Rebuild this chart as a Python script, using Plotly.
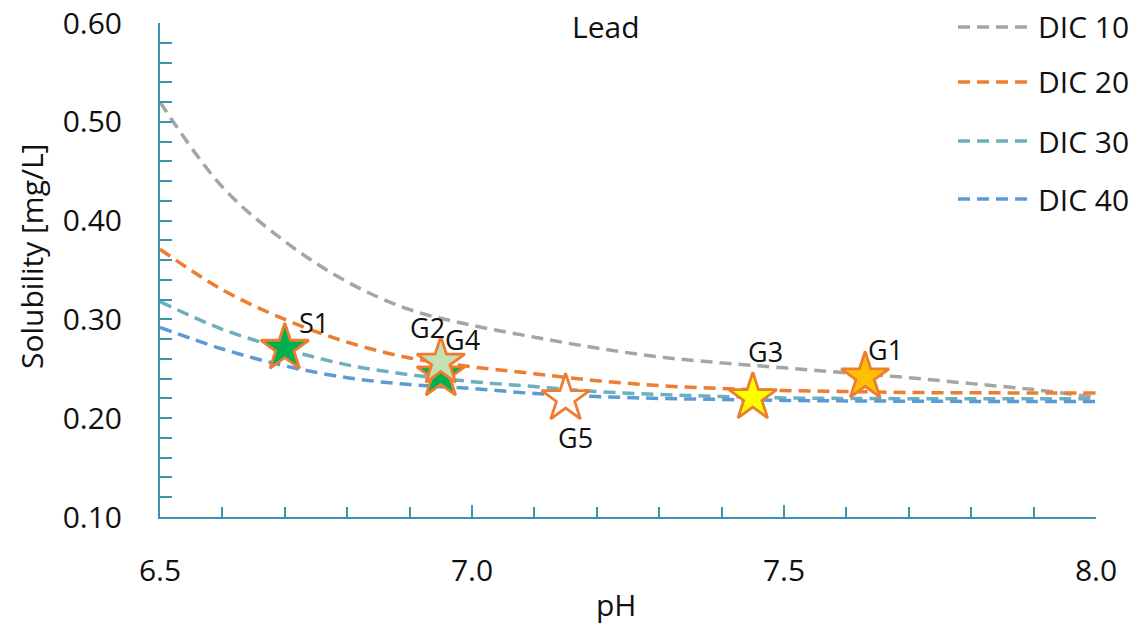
import plotly.graph_objects as go

# ---------------- data ----------------
ph = [6.5, 6.6, 6.7, 6.8, 6.9, 7.0, 7.1, 7.2, 7.3, 7.4, 7.5, 7.6, 7.7, 7.8, 7.9, 8.0]
dic10 = [0.520, 0.434, 0.379, 0.338, 0.310, 0.294, 0.282, 0.271, 0.262, 0.256, 0.251, 0.246, 0.241, 0.235, 0.229, 0.221]
dic20 = [0.371, 0.330, 0.300, 0.277, 0.261, 0.252, 0.245, 0.238, 0.233, 0.230, 0.228, 0.227, 0.226, 0.2258, 0.2255, 0.2254]
dic30 = [0.318, 0.290, 0.270, 0.254, 0.244, 0.237, 0.232, 0.227, 0.224, 0.222, 0.2205, 0.2200, 0.2198, 0.2198, 0.2198, 0.2198]
dic40 = [0.292, 0.270, 0.253, 0.241, 0.234, 0.230, 0.225, 0.222, 0.220, 0.219, 0.218, 0.2175, 0.2172, 0.2170, 0.2170, 0.2170]
series_names = ["DIC 10", "DIC 20", "DIC 30", "DIC 40"]
series_values = [dic10, dic20, dic30, dic40]

sample_names = ["S1", "G4", "G2", "G5", "G3", "G1"]
sample_ph = [6.70, 6.95, 6.95, 7.15, 7.45, 7.63]
sample_sol = [0.271, 0.244, 0.257, 0.220, 0.221, 0.242]

x_ticks = [6.5, 7.0, 7.5, 8.0]
y_ticks = [0.10, 0.20, 0.30, 0.40, 0.50, 0.60]
x_title = "pH"
y_title = "Solubility [mg/L]"
chart_title = "Lead"

# ---------------- styles ----------------
series_colors = ["#A5A5A5", "#ED7D31", "#6CB0C0", "#5B9BD5"]
sample_fill = {"S1": "#00B050", "G4": "#00B050", "G2": "#C5E0B4", "G5": "#FFFFFF",
               "G3": "#FFFF00", "G1": "#FFC000"}
label_offset = {"S1": (29, 26), "G2": (-13, 34), "G4": (22, 35), "G5": (10, -39),
                "G3": (13, 46), "G1": (20, 27)}
FONT = "Open Sans, sans-serif"
TXT = "#111111"
AX = "#3B94AC"
DASH = "12px,7px"
LW = 3.5
FS = 30

fig = go.Figure()
for name, vals, col in zip(series_names, series_values, series_colors):
    fig.add_trace(go.Scatter(x=ph, y=vals, mode="lines", name=name,
                             line=dict(color=col, width=LW, dash=DASH, shape="spline", smoothing=1.0),
                             showlegend=False, hoverinfo="skip"))

for n, xv, yv in zip(sample_names, sample_ph, sample_sol):
    fig.add_trace(go.Scatter(x=[xv], y=[yv], mode="markers", name=n, showlegend=False,
                             marker=dict(symbol="star", size=36, color=sample_fill[n],
                                         line=dict(color="#ED7D31", width=2.8))))
    dx, dy = label_offset[n]
    fig.add_annotation(x=xv, y=yv, xref="x", yref="y", text=n, showarrow=False,
                       xshift=dx, yshift=dy, font=dict(family=FONT, size=27, color=TXT))

# layout geometry (pixels)
L, R, T, B = 160, 41, 23, 110
W, H = 1137, 627
pw, ph_ = W - L - R, H - T - B


def px(x):
    return (x - L) / pw


def py(y):
    return (H - B - y) / ph_


# manual legend
leg_y = [27, 82, 141, 199]
for name, col, ly in zip(series_names, series_colors, leg_y):
    fig.add_shape(type="line", xref="paper", yref="paper",
                  x0=px(958), x1=px(1031), y0=py(ly), y1=py(ly),
                  line=dict(color=col, width=LW, dash=DASH))
    fig.add_annotation(xref="paper", yref="paper", x=px(1036), y=py(ly), text=name,
                       showarrow=False, xanchor="left", yanchor="middle",
                       font=dict(family=FONT, size=FS, color=TXT))

fig.add_annotation(xref="paper", yref="paper", x=px(606), y=py(27),
                   text=chart_title, showarrow=False, xanchor="center", yanchor="middle",
                   font=dict(family=FONT, size=FS, color=TXT))
# axis titles
fig.add_annotation(xref="paper", yref="paper", x=px(616), y=py(604),
                   text=x_title, showarrow=False, xanchor="center", yanchor="middle",
                   font=dict(family=FONT, size=FS, color=TXT))
fig.add_annotation(xref="paper", yref="paper", x=px(31), y=py(257), textangle=-90,
                   text=y_title, showarrow=False, xanchor="center", yanchor="middle",
                   font=dict(family=FONT, size=FS, color=TXT))

fig.update_layout(
    width=W, height=H, autosize=False,
    margin=dict(l=L, r=R, t=T, b=B),
    paper_bgcolor="white", plot_bgcolor="white",
    font=dict(family=FONT, color=TXT, size=FS),
)
fig.update_xaxes(range=[6.5, 8.0], tickvals=x_ticks, tickformat=".1f", automargin=False,
                 showgrid=False, zeroline=False, showline=True, linecolor=AX, linewidth=2,
                 ticks="inside", ticklen=12, tickwidth=2, tickcolor=AX,
                 minor=dict(dtick=0.1, ticks="inside", ticklen=10, tickwidth=2, tickcolor=AX, showgrid=False),
                 ticklabelstandoff=26,
                 tickfont=dict(family=FONT, size=FS, color=TXT))
fig.update_yaxes(range=[0.10, 0.60], tickvals=y_ticks, tickformat=".2f", automargin=False,
                 showgrid=False, zeroline=False, showline=True, linecolor=AX, linewidth=2,
                 ticks="inside", ticklen=12, tickwidth=2, tickcolor=AX,
                 minor=dict(dtick=0.02, ticks="inside", ticklen=12, tickwidth=2, tickcolor=AX, showgrid=False),
                 ticklabelstandoff=30,
                 tickfont=dict(family=FONT, size=FS, color=TXT))

fig.write_html("out.html")
